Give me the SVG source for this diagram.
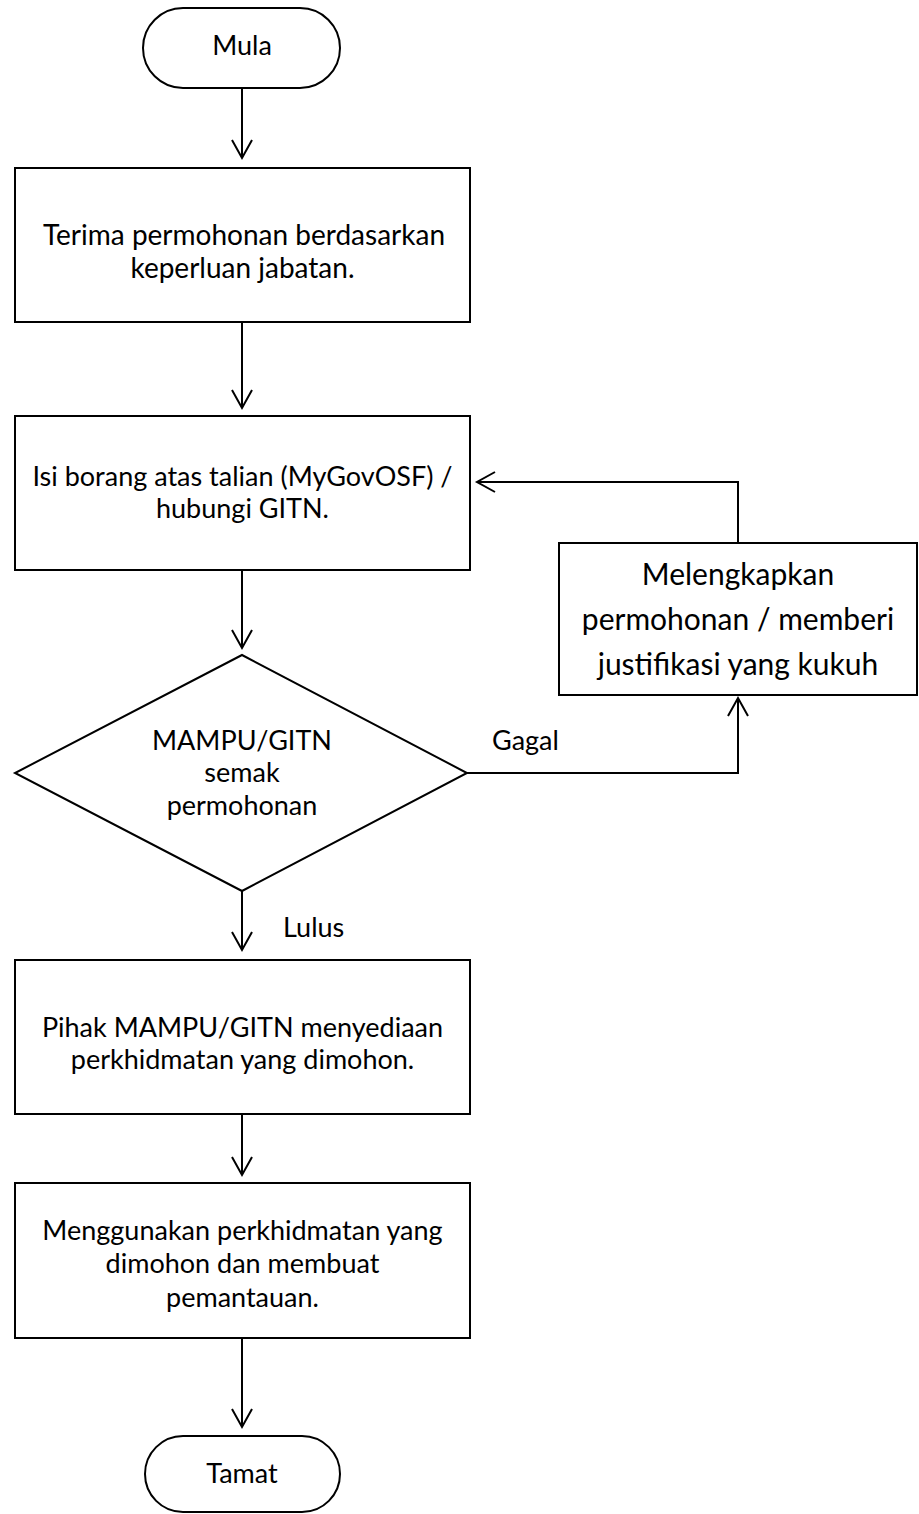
<svg xmlns="http://www.w3.org/2000/svg" width="919" height="1514" viewBox="0 0 919 1514">
<defs>
<style>
.shape{fill:#fff;stroke:#000;stroke-width:2}
.t{font-family:Lato,"Open Sans","Liberation Sans",sans-serif;font-size:27px;fill:#000;text-anchor:middle}
.big{font-size:30px}
.t28{font-size:28px}
.lbl{text-anchor:start}
.c{fill:none;stroke:#000;stroke-width:2}
</style>
<marker id="ah" markerUnits="userSpaceOnUse" markerWidth="24" markerHeight="24" refX="20" refY="12" orient="auto" overflow="visible">
<path d="M2,2 L20,12 L2,22" fill="none" stroke="#000" stroke-width="2"/>
</marker>
</defs>
<rect width="919" height="1514" fill="#fff"/>
<g id="connectors">
<line class="c" x1="242" y1="88" x2="242" y2="158" marker-end="url(#ah)"/>
<line class="c" x1="242" y1="322" x2="242" y2="408" marker-end="url(#ah)"/>
<line class="c" x1="242" y1="570" x2="242" y2="648" marker-end="url(#ah)"/>
<line class="c" x1="242" y1="891" x2="242" y2="950" marker-end="url(#ah)"/>
<line class="c" x1="242" y1="1114" x2="242" y2="1175" marker-end="url(#ah)"/>
<line class="c" x1="242" y1="1338" x2="242" y2="1427" marker-end="url(#ah)"/>
<polyline class="c" points="467,773 738,773 738,698" marker-end="url(#ah)"/>
<polyline class="c" points="738,543 738,482 477,482" marker-end="url(#ah)"/>
<text class="t lbl" x="492" y="750">Gagal</text>
<text class="t lbl" x="283" y="937">Lulus</text>
</g>
<g id="mula">
<rect class="shape" x="143" y="8" width="197" height="80" rx="40" ry="40"/>
<text class="t" x="242" y="55">Mula</text>
</g>
<g id="terima">
<rect class="shape" x="15" y="168" width="455" height="154"/>
<text class="t t28" x="244" y="245">Terima permohonan berdasarkan</text>
<text class="t t28" x="242.5" y="278">keperluan jabatan.</text>
</g>
<g id="isi-borang">
<rect class="shape" x="15" y="416" width="455" height="154"/>
<text class="t" x="242.5" y="486">Isi borang atas talian (MyGovOSF) /</text>
<text class="t" x="242.5" y="518">hubungi GITN.</text>
</g>
<g id="semak">
<polygon class="shape" points="242,655 467,773 242,891 15,773"/>
<text class="t" x="242" y="750">MAMPU/GITN</text>
<text class="t" x="242" y="782">semak</text>
<text class="t" x="242" y="815">permohonan</text>
</g>
<g id="melengkapkan">
<rect class="shape" x="559" y="543" width="358" height="152"/>
<text class="t big" x="738" y="585">Melengkapkan</text>
<text class="t big" x="738" y="630">permohonan / memberi</text>
<text class="t big" x="738" y="675">justifikasi yang kukuh</text>
</g>
<g id="sediakan">
<rect class="shape" x="15" y="960" width="455" height="154"/>
<text class="t" x="242.5" y="1037">Pihak MAMPU/GITN menyediaan</text>
<text class="t" x="242.5" y="1069">perkhidmatan yang dimohon.</text>
</g>
<g id="guna">
<rect class="shape" x="15" y="1183" width="455" height="155"/>
<text class="t" x="242.5" y="1240">Menggunakan perkhidmatan yang</text>
<text class="t" x="242.5" y="1273">dimohon dan membuat</text>
<text class="t" x="242.5" y="1307">pemantauan.</text>
</g>
<g id="tamat">
<rect class="shape" x="145" y="1436" width="195" height="76" rx="38" ry="38"/>
<text class="t" x="242" y="1483">Tamat</text>
</g>
</svg>
